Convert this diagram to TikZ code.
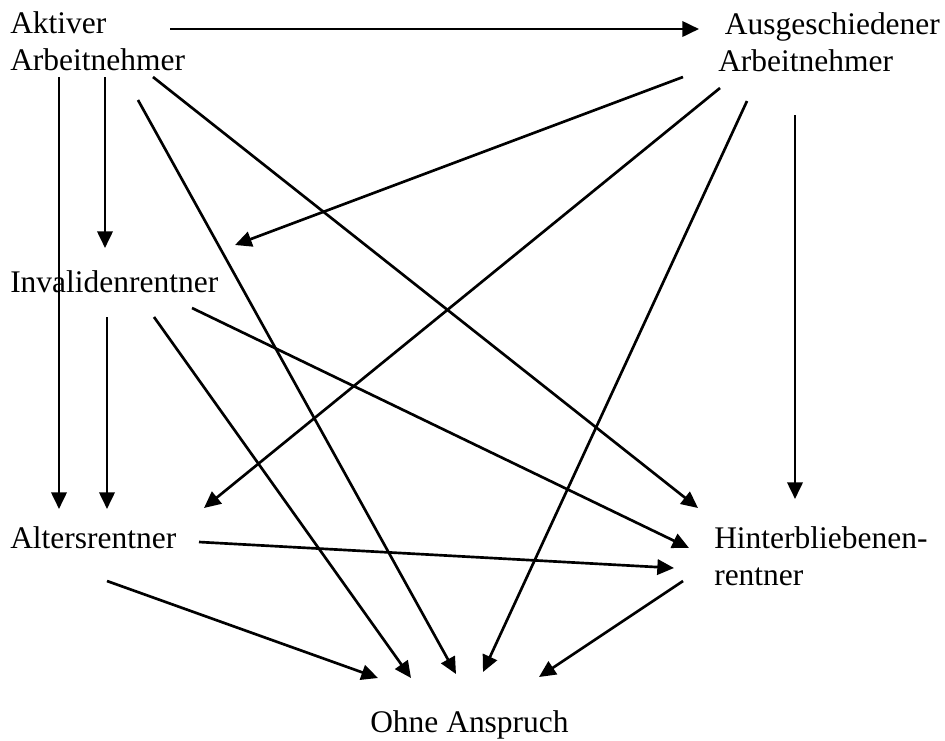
\documentclass[tikz,border=0pt]{standalone}
\usepackage{fontspec}
\setmainfont{Liberation Serif}
\usetikzlibrary{arrows.meta}
\begin{document}
\begin{tikzpicture}[x=0.75pt,y=-0.75pt,
  lbl/.style={anchor=base west,inner sep=0pt,align=left,
    font=\fontsize{23.6}{27.75}\selectfont},
  arr/.style={line width=2pt,-{Triangle[length=12.5pt,width=11.5pt]}}]
\useasboundingbox (0,0) rectangle (945,740);
% nodes (base = baseline of the last line)
\node[lbl] (akt) at (10,70) {Aktiver\\Arbeitnehmer};
\node[lbl] (aus) at (718,71) {\hspace{5pt}Ausgeschiedener\\Arbeitnehmer};
\node[lbl] (inv) at (10,292) {Invalidenrentner};
\node[lbl] (alt) at (10,548) {Altersrentner};
\node[lbl] (hin) at (714,585) {Hinterbliebenen-\\rentner};
\node[lbl] (ohne) at (370,732) {Ohne Anspruch};
% connector end points
\coordinate (a1) at (170,29);   \coordinate (b1) at (699,29);
\coordinate (a2) at (59,77);    \coordinate (b2) at (59,509);
\coordinate (a3) at (105,77);   \coordinate (b3) at (105,248);
\coordinate (a4) at (138,100);  \coordinate (b4) at (456,674);
\coordinate (a5) at (153,77);   \coordinate (b5) at (698,508);
\coordinate (c1) at (683,77);   \coordinate (d1) at (235,245);
\coordinate (c2) at (720,88);   \coordinate (d2) at (204,508);
\coordinate (c3) at (747,101);  \coordinate (d3) at (483,672);
\coordinate (c4) at (795,115);  \coordinate (d4) at (795,499);
\coordinate (e1) at (107,317);  \coordinate (f1) at (107,509);
\coordinate (e2) at (154,317);  \coordinate (f2) at (411,678);
\coordinate (e3) at (192,308);  \coordinate (f3) at (689,548);
\coordinate (g1) at (199,542);  \coordinate (h1) at (674,568);
\coordinate (g2) at (107,581);  \coordinate (h2) at (378,678);
\coordinate (k1) at (683,581);  \coordinate (l1) at (539,677);
% connectors
\draw[arr] (a1) -- (b1);
\draw[arr] (a2) -- (b2);
\draw[arr] (a3) -- (b3);
\draw[arr] (a4) -- (b4);
\draw[arr] (a5) -- (b5);
\draw[arr] (c1) -- (d1);
\draw[arr] (c2) -- (d2);
\draw[arr] (c3) -- (d3);
\draw[arr] (c4) -- (d4);
\draw[arr] (e1) -- (f1);
\draw[arr] (e2) -- (f2);
\draw[arr] (e3) -- (f3);
\draw[arr] (g1) -- (h1);
\draw[arr] (g2) -- (h2);
\draw[arr] (k1) -- (l1);
\end{tikzpicture}
\end{document}
